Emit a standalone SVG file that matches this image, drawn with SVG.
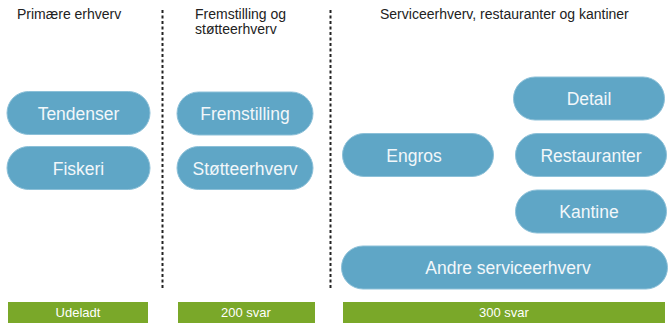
<svg xmlns="http://www.w3.org/2000/svg" width="671" height="323" viewBox="0 0 671 323">
<style>
.pill{fill:#5fa6c6;stroke:#8cc0d8;stroke-width:1}
.pt{font-family:"Liberation Sans",Arial,sans-serif;font-size:17.5px;fill:#f2f7fa;text-anchor:middle}
.hd{font-family:"Liberation Sans",Arial,sans-serif;font-size:14px;fill:#222}
.bar{fill:#7aa829}
.bt{font-family:"Liberation Sans",Arial,sans-serif;font-size:13px;fill:#fff;text-anchor:middle}
.sep{stroke:#222;stroke-width:2;stroke-dasharray:3 2.5;fill:none}
</style>
<rect width="671" height="323" fill="#fff"/>
<g id="connectors">
<line class="sep" x1="162.5" y1="10" x2="162.5" y2="288"/>
<line class="sep" x1="330.5" y1="10" x2="330.5" y2="288"/>
</g>
<g id="headers">
<text class="hd" x="17" y="19">Primære erhverv</text>
<text class="hd" x="195" y="19">Fremstilling og</text>
<text class="hd" x="195" y="34">støtteerhverv</text>
<text class="hd" x="380" y="19">Serviceerhverv, restauranter og kantiner</text>
</g>
<g id="tendenser"><rect class="pill" x="7" y="91.5" width="143" height="43" rx="21.5"/><text class="pt" x="78.5" y="119.5">Tendenser</text></g>
<g id="fiskeri"><rect class="pill" x="7" y="146.5" width="143" height="43" rx="21.5"/><text class="pt" x="78.5" y="174.5">Fiskeri</text></g>
<g id="fremstilling"><rect class="pill" x="177" y="92" width="136" height="43" rx="21.5"/><text class="pt" x="245" y="120">Fremstilling</text></g>
<g id="stoetteerhverv"><rect class="pill" x="177" y="146.5" width="136" height="43" rx="21.5"/><text class="pt" x="245" y="174.5">Støtteerhverv</text></g>
<g id="detail"><rect class="pill" x="513.5" y="77" width="151" height="43" rx="21.5"/><text class="pt" x="589" y="105">Detail</text></g>
<g id="engros"><rect class="pill" x="342.5" y="133.5" width="151" height="43" rx="21.5"/><text class="pt" x="414" y="161.5">Engros</text></g>
<g id="restauranter"><rect class="pill" x="515.5" y="133.5" width="151" height="43" rx="21.5"/><text class="pt" x="591" y="161.5">Restauranter</text></g>
<g id="kantine"><rect class="pill" x="515.5" y="190" width="151" height="43" rx="21.5"/><text class="pt" x="589" y="218">Kantine</text></g>
<g id="andre"><rect class="pill" x="341.5" y="246" width="326" height="43" rx="21.5"/><text class="pt" x="508" y="274">Andre serviceerhverv</text></g>
<g id="udeladt"><rect class="bar" x="8" y="302" width="140" height="21"/><text class="bt" x="78" y="317">Udeladt</text></g>
<g id="svar200"><rect class="bar" x="178" y="302" width="137" height="21"/><text class="bt" x="246" y="317">200 svar</text></g>
<g id="svar300"><rect class="bar" x="343" y="302" width="322" height="21"/><text class="bt" x="504" y="317">300 svar</text></g>
</svg>
